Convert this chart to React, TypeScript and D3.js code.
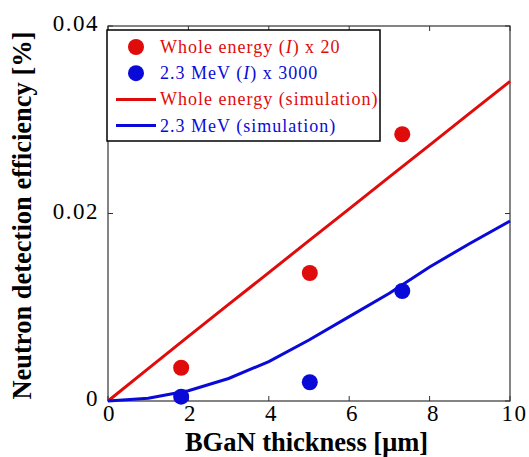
import React from 'react';
import * as d3 from 'd3';

const width = 529,
  height = 457;
const margin = { top: 26, right: 19, bottom: 56, left: 108 };

// simulation curves
const simX = [0, 1, 2, 3, 4, 5, 6, 7, 8, 9, 10];
const simWhole = [0, 0.00345, 0.0069, 0.0103, 0.0137, 0.0171, 0.0205, 0.0239, 0.0273, 0.0307, 0.0341];
const simLow = [0, 0.0003, 0.0011, 0.0024, 0.0042, 0.0065, 0.009, 0.0115, 0.0143, 0.0168, 0.0192];

// measured points
const measX = [1.82, 5.02, 7.32];
const measWhole = [0.00355, 0.01365, 0.02845];
const measLow = [0.00046, 0.002, 0.01173];

const xTicks = [0, 2, 4, 6, 8, 10];
const yTicks = [0, 0.02, 0.04];

const RED = '#e00b0b';
const BLUE = '#0a0ad8';
const FONT = 'Liberation Serif';

const x = d3.scaleLinear().domain([0, 10]).range([margin.left, width - margin.right]);
const y = d3.scaleLinear().domain([0, 0.04]).range([height - margin.bottom, margin.top]);

const line = d3.line<number>()
  .x((_, i) => x(simX[i]))
  .y((d) => y(d));

const legendItems = [
  { type: 'dot', color: RED, label: ['Whole energy (', 'I', ') x 20'] },
  { type: 'dot', color: BLUE, label: ['2.3 MeV (', 'I', ') x 3000'] },
  { type: 'line', color: RED, label: ['Whole energy (simulation)'] },
  { type: 'line', color: BLUE, label: ['2.3 MeV (simulation)'] },
];

export default function App() {
  const [x0, x1] = x.range();
  const [y0, y1] = y.range();
  const tick = 5;

  return (
    <svg width={width} height={height}
      style={{ position: 'absolute', left: 0, top: 0, background: 'white' }}>
      <rect x={x0} y={y1} width={x1 - x0} height={y0 - y1} fill="none" stroke="#333" strokeWidth={1.2} />

      {xTicks.map((t) => (
        <g key={'x' + t}>
          <line x1={x(t)} x2={x(t)} y1={y0} y2={y0 - tick} stroke="#333" />
          <line x1={x(t)} x2={x(t)} y1={y1} y2={y1 + tick} stroke="#333" />
          <text x={x(t) + 1.5 + t * 0.3} y={y0 + 20} textAnchor="middle" fontFamily={FONT} fontSize={23} letterSpacing={1.5}>
            {d3.format('d')(t)}
          </text>
        </g>
      ))}
      {yTicks.map((t) => (
        <g key={'y' + t}>
          <line x1={x0} x2={x0 + tick} y1={y(t)} y2={y(t)} stroke="#333" />
          <line x1={x1} x2={x1 - tick} y1={y(t)} y2={y(t)} stroke="#333" />
          <text x={x0 - 9} y={y(t) + 5} textAnchor="end" fontFamily={FONT} fontSize={23} letterSpacing={1.5}>
            {t === 0 ? '0' : d3.format('.2f')(t)}
          </text>
        </g>
      ))}

      <path d={line(simWhole) ?? ''} fill="none" stroke={RED} strokeWidth={3} />
      <path d={line(simLow) ?? ''} fill="none" stroke={BLUE} strokeWidth={3} />

      {measX.map((v, i) => (
        <g key={'m' + i}>
          <circle cx={x(v)} cy={y(measWhole[i])} r={8} fill={RED} />
          <circle cx={x(v)} cy={y(measLow[i])} r={8} fill={BLUE} />
        </g>
      ))}

      {/* legend */}
      <rect x={107} y={30} width={273} height={111} fill="white" stroke="black" strokeWidth={1.5} />
      {legendItems.map((it, i) => {
        const cy = 47 + i * 26.2;
        return (
          <g key={'l' + i}>
            {it.type === 'dot'
              ? <circle cx={136} cy={cy} r={8} fill={it.color} />
              : <line x1={116} x2={156} y1={cy} y2={cy} stroke={it.color} strokeWidth={3} />}
            <text x={160} y={cy + 6} fill={it.color} fontFamily={FONT} fontSize={18} letterSpacing={1}>
              {it.label.map((s, j) => (
                <tspan key={j} fontStyle={j === 1 ? 'italic' : 'normal'}>{s}</tspan>
              ))}
            </text>
          </g>
        );
      })}

      <text x={(x0 + x1) / 2 - 2.5} y={451} textAnchor="middle" fontFamily={FONT} fontSize={26.5} fontWeight="bold">
        BGaN thickness [μm]
      </text>
      <text transform={`translate(31,${(y0 + y1) / 2 + 2}) rotate(-90)`} textAnchor="middle"
        fontFamily={FONT} fontSize={26.5} fontWeight="bold">
        Neutron detection efficiency [%]
      </text>
    </svg>
  );
}
